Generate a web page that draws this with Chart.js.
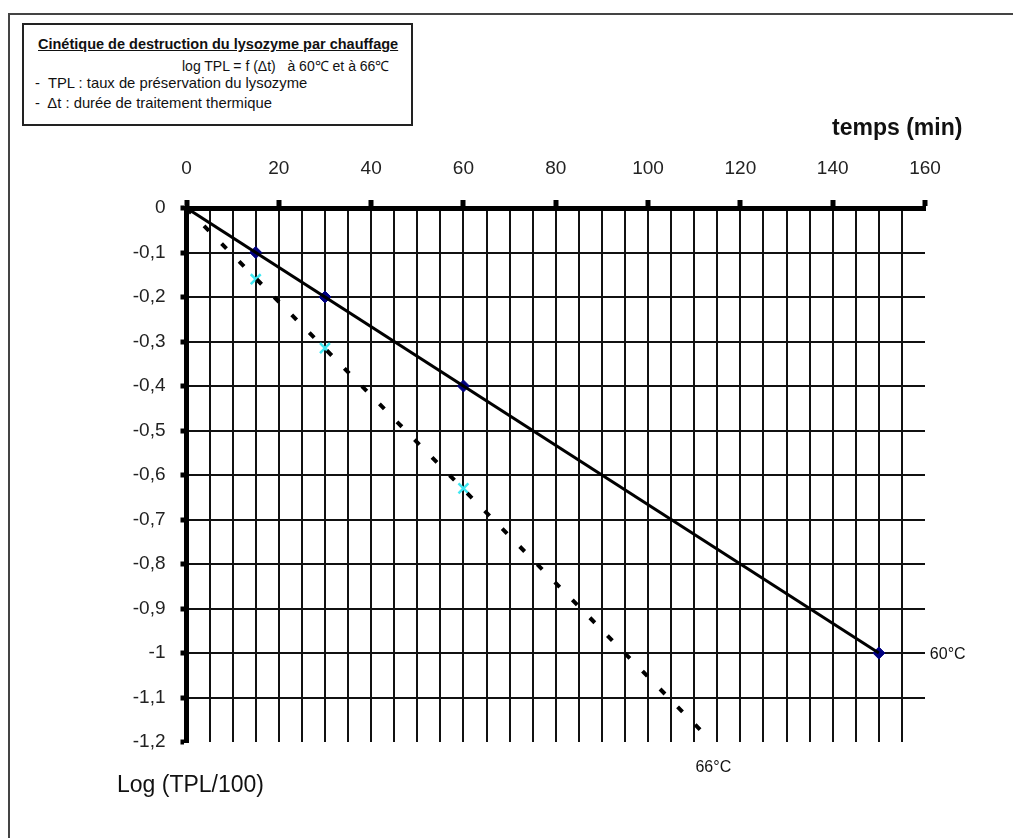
<!DOCTYPE html>
<html lang="fr">
<head>
<meta charset="utf-8">
<title>Cinétique de destruction du lysozyme</title>
<script src="https://cdn.jsdelivr.net/npm/chart.js@4.4.1/dist/chart.umd.min.js"></script>
<style>
    body { margin: 0; background: #fff; font-family: "Liberation Sans", Arial, sans-serif; color: #111; }
    #wrap { position: relative; width: 1013px; height: 838px; overflow: hidden; }
    #frame { position: absolute; left: 8px; top: 13px; width: 1100px; height: 900px; border-left: 2px solid #444; border-top: 2px solid #444; }
    #box { position: absolute; left: 22px; top: 23px; width: 387px; height: 99px; border: 2px solid #222; background: #fff; }
    #box div { position: absolute; white-space: nowrap; }
    .lbl { position: absolute; white-space: nowrap; }
    canvas { position: absolute; left: 0; top: 0; }
</style>
</head>
<body>
<div id="wrap">
    <div id="frame"></div>
    <canvas id="chart" width="1013" height="838"></canvas>
    <div id="box">
        <div style="left:14px; top:11px; font-size:14.5px; font-weight:bold; text-decoration:underline;">Cinétique de destruction du lysozyme par chauffage</div>
        <div style="left:158px; top:31px; font-size:14px;">log TPL = f (Δt)&nbsp;&nbsp; à 60℃ et à 66℃</div>
        <div style="left:11px; top:50px; font-size:14.8px;">-&nbsp; TPL : taux de préservation du lysozyme</div>
        <div style="left:11px; top:70px; font-size:14.8px;">-&nbsp; Δt : durée de traitement thermique</div>
    </div>
    <div class="lbl" style="left:832px; top:114px; font-size:23px; font-weight:bold;">temps (min)</div>
    <div class="lbl" style="left:117px; top:771px; font-size:23px;">Log (TPL/100)</div>
</div>
<script>
    const temps60 = [15, 30, 60, 150];
    const log60 = [-0.1, -0.2, -0.4, -1];
    const temps66 = [15, 30, 60];
    const log66 = [-0.16, -0.315, -0.63];

    // Droites de tendance (extrémités)
    const trend60X = [0, 150];
    const trend60Y = [0, -1];
    const trend66X = [0, 112];
    const trend66Y = [0, -1.18];

    const xMin = 0, xMax = 160, xStep = 5, xLabelStep = 20;
    const yMin = -1.2, yMax = 0, yStep = 0.1;

    const toPoints = (xs, ys) => xs.map((x, i) => ({ x: x, y: ys[i] }));
    const fmt = (v) => String(Math.round(v * 10) / 10).replace(".", ",");
    const isMajorX = (v) => Math.abs(v % xLabelStep) < 1e-6;

    // Etiquettes des séries à côté des droites
    const seriesLabels = {
        id: "seriesLabels",
        afterDatasetsDraw(chart) {
            const { ctx, scales: { x, y } } = chart;
            ctx.save();
            ctx.fillStyle = "#111";
            ctx.font = "16px 'Liberation Sans', Arial, sans-serif";
            ctx.textBaseline = "middle";
            ctx.textAlign = "left";
            ctx.fillText("60°C", x.getPixelForValue(trend60X[1]) + 51, y.getPixelForValue(trend60Y[1]) + 2);
            ctx.fillText("66°C", x.getPixelForValue(trend66X[1]) - 8, y.bottom + 26);
            ctx.restore();
        }
    };

    new Chart(document.getElementById("chart"), {
        type: "scatter",
        data: {
            datasets: [
                {
                    label: "60°C tendance",
                    data: toPoints(trend60X, trend60Y),
                    showLine: true,
                    borderColor: "#000",
                    borderWidth: 3,
                    pointRadius: 0,
                },
                {
                    label: "66°C tendance",
                    data: toPoints(trend66X, trend66Y),
                    showLine: true,
                    borderColor: "#000",
                    borderWidth: 4,
                    borderDash: [7, 18],
                    pointRadius: 0,
                },
                {
                    label: "60°C",
                    data: toPoints(temps60, log60),
                    pointStyle: "rectRot",
                    pointRadius: 6,
                    backgroundColor: "#000080",
                    borderColor: "#000080",
                },
                {
                    label: "66°C",
                    data: toPoints(temps66, log66),
                    pointStyle: "crossRot",
                    pointRadius: 7,
                    borderWidth: 2.5,
                    borderColor: "#3fe8f2",
                },
            ],
        },
        options: {
            responsive: false,
            animation: false,
            layout: { padding: { left: 0, top: 0, right: 88, bottom: 96 } },
            plugins: {
                legend: { display: false },
                tooltip: { enabled: false },
            },
            scales: {
                x: {
                    type: "linear",
                    position: "top",
                    min: xMin,
                    max: xMax,
                    afterFit: (scale) => { scale.height = 208; },
                    border: { display: true, color: "#000", width: 5 },
                    grid: {
                        color: (c) => (c.tick && c.tick.value === xMax ? "rgba(0,0,0,0)" : "#111"),
                        lineWidth: 2,
                        tickLength: 8,
                        tickWidth: 5,
                        tickColor: (c) => (c.tick && isMajorX(c.tick.value) ? "#000" : "rgba(0,0,0,0)"),
                    },
                    ticks: {
                        stepSize: xStep,
                        autoSkip: false,
                        maxRotation: 0,
                        padding: 20,
                        color: "#222",
                        font: { family: "'Liberation Sans', Arial, sans-serif", size: 19 },
                        callback: (v) => (isMajorX(v) ? String(v) : ""),
                    },
                },
                y: {
                    type: "linear",
                    min: yMin,
                    max: yMax,
                    afterFit: (scale) => { scale.width = 186.5; },
                    border: { display: true, color: "#000", width: 5 },
                    grid: {
                        color: (c) => (c.tick && Math.abs(c.tick.value - yMin) < 1e-6 ? "rgba(0,0,0,0)" : "#111"),
                        lineWidth: 2,
                        tickLength: 6,
                        tickWidth: 5,
                        tickColor: "#000",
                    },
                    ticks: {
                        stepSize: yStep,
                        autoSkip: false,
                        padding: 15,
                        color: "#222",
                        font: { family: "'Liberation Sans', Arial, sans-serif", size: 19 },
                        callback: (v) => fmt(v),
                    },
                },
            },
        },
        plugins: [seriesLabels],
    });
</script>
</body>
</html>
